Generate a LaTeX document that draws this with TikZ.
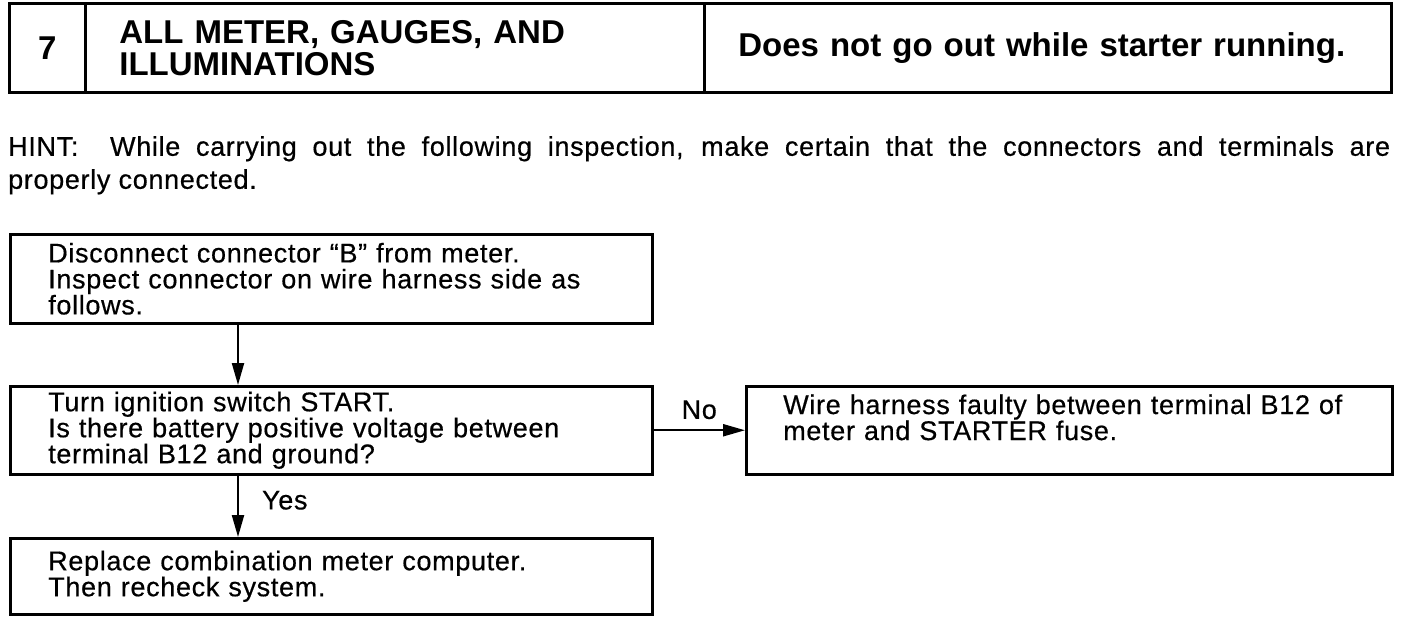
\documentclass[tikz,border=0pt]{standalone}
\usepackage{fontspec}
\setmainfont{Liberation Sans}[LetterSpace=2.5,FakeBold=0.5]
\newfontfamily\hdfont{Liberation Sans}
\usetikzlibrary{arrows.meta}
\begin{document}
\begin{tikzpicture}[x=1pt,y=-1pt,
  bodyfont/.style={font=\fontsize{27}{26}\selectfont},
  hdr/.style={draw,line width=2.8pt,rectangle,anchor=north west,inner sep=0pt,
    font=\hdfont\bfseries\fontsize{33}{32}\selectfont},
  fbox/.style={draw,line width=2.5pt,rectangle,anchor=north west,inner ysep=0pt,
    inner xsep=38pt,align=left,bodyfont},
  arr/.style={line width=2.2pt,-{Triangle[length=22pt,width=12pt]}},
  lbl/.style={bodyfont,inner sep=0pt}]
\useasboundingbox (0,0) rectangle (1408,622);
\fill[white] (0,0) rectangle (1408,622);
% header
\node[hdr,minimum width=76pt,minimum height=89pt] (hnum) at (8,2) {7};
\node[hdr,minimum width=619pt,minimum height=89pt,text width=551pt,align=left,inner xsep=34pt] (htitle) at (84,2) {ALL METER, GAUGES, AND\\ILLUMINATIONS};
\node[hdr,minimum width=687pt,minimum height=89pt,text width=619pt,align=left,inner xsep=34pt] (hdesc) at (703,2) {Does not go out while starter running.};
% hint
\node[bodyfont,anchor=north west,inner sep=0pt,align=left] (hint) at (8,136)
  {\makebox[1382pt][s]{HINT:\hspace{16pt} While carrying out the following inspection, make certain that the connectors and terminals are}\\[7pt]
   properly connected.};
% boxes
\node[fbox,minimum width=642pt,minimum height=89pt,text width=566pt] (b1) at (9,233)
  {Disconnect connector “B” from meter.\\Inspect connector on wire harness side as\\follows.};
\node[fbox,minimum width=642pt,minimum height=88pt,text width=566pt] (b2) at (9,385)
  {Turn ignition switch START.\\Is there battery positive voltage between\\terminal B12 and ground?};
\node[fbox,minimum width=646pt,minimum height=88pt,text width=572pt,inner xsep=37pt] (b3) at (745,385)
  {Wire harness faulty between terminal B12 of\\meter and STARTER fuse.\\\mbox{}};
\node[fbox,minimum width=642pt,minimum height=76pt,text width=566pt] (b4) at (9,537)
  {Replace combination meter computer.\\Then recheck system.};
% connectors
\draw[arr] (b1.south -| 238,0) -- (b2.north -| 238,0);
\draw[arr] (b2.south -| 238,0) -- node[lbl,right=23pt,yshift=6pt] (yes) {Yes} (b4.north -| 238,0);
\draw[arr] (b2.east) -- node[lbl,above=10pt] (no) {No} (b3.west);
\end{tikzpicture}
\end{document}
